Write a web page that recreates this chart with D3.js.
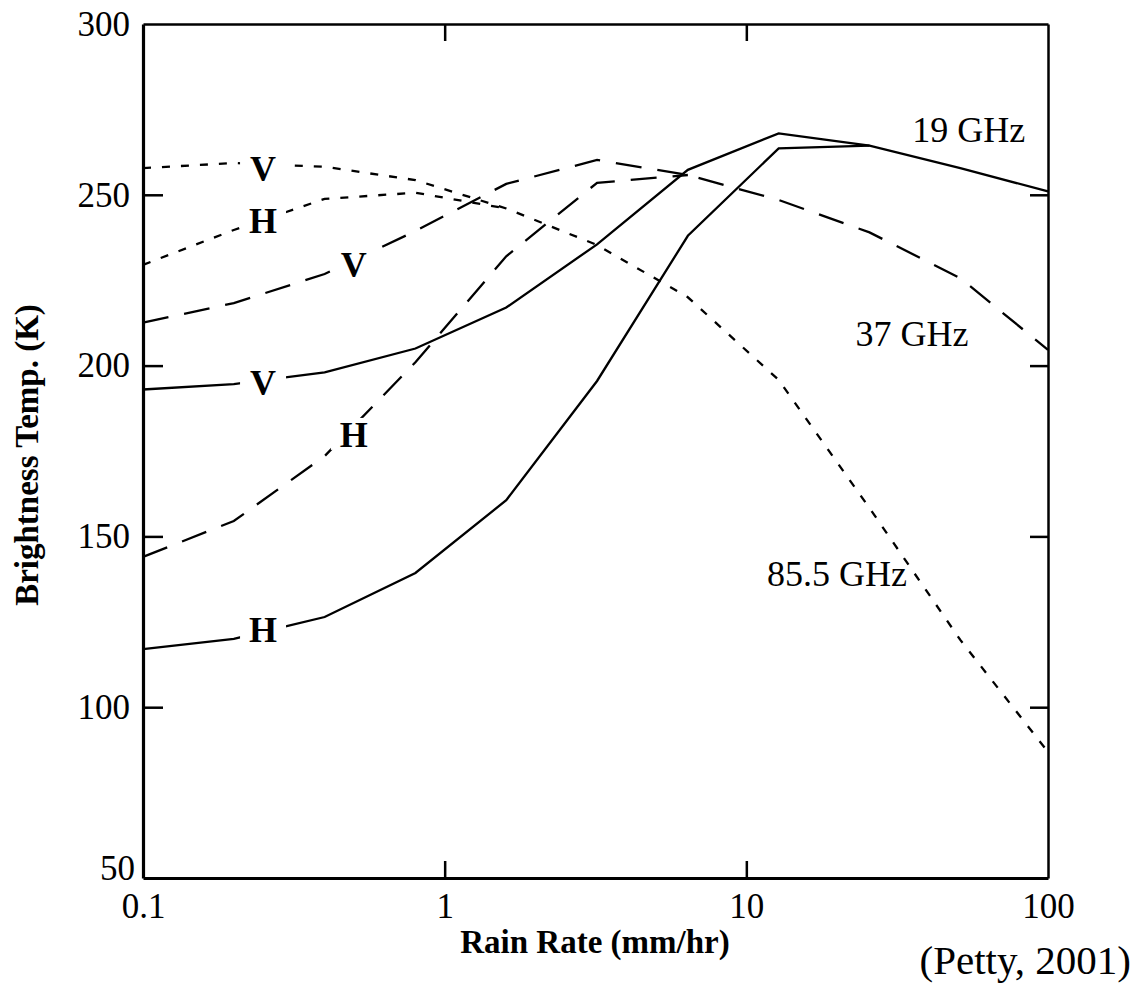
<!DOCTYPE html>
<html>
<head>
<meta charset="utf-8">
<script src="https://cdn.jsdelivr.net/npm/d3@7"></script>
<style>
  body { margin: 0; background: #fff; }
  svg { display: block; }
  text { font-family: "Liberation Serif", "Times New Roman", serif; fill: #000; }
</style>
</head>
<body>
<div class="canvas"></div>
<script>
// rain rates (mm/hr) where the model curves have vertices
const rates = [0.1, 0.2, 0.4, 0.8, 1.6, 3.2, 6.4, 12.8, 25.6, 51.2, 100];

// brightness temperatures (K)
// H curves stop where they join their V curve
const tb19V = [193, 194.6, 198, 205, 217, 235.5, 257.3, 268, 264.4, 257.8, 251];
const tb19H = [117, 120, 126.4, 139.3, 160.6, 195.5, 238, 263.6, 264.4];
const tb37V = [212.6, 218.3, 226.8, 239.4, 253.2, 260.2, 255.8, 248.5, 239, 225.6, 204.6];
const tb37H = [144, 154.5, 173.5, 201, 232, 253.5, 255.8];
const tb85V = [257.8, 259.3, 258.2, 254.3, 246, 235.3, 220, 195.8, 158.3, 119.7, 86.9];
const tb85H = [229.5, 239.7, 248.8, 250.6, 246];

const xTicks = [0.1, 1, 10, 100];
const yTicks = [50, 100, 150, 200, 250, 300];

// polarisation letters sitting on the curves
const polLabels = [
  { text: "V", rate: 0.25, tb: 257.7 },
  { text: "H", rate: 0.25, tb: 242.6 },
  { text: "V", rate: 0.5, tb: 229.6 },
  { text: "H", rate: 0.5, tb: 180 },
  { text: "V", rate: 0.25, tb: 195 },
  { text: "H", rate: 0.25, tb: 122.8 }
];

const freqLabels = [
  { text: "19 GHz", rate: 35.5, tb: 265.6 },
  { text: "37 GHz", rate: 23, tb: 205.6 },
  { text: "85.5 GHz", rate: 11.7, tb: 135.4 }
];

const dims = { w: 1137, h: 988 };
const plot = { left: 143, right: 1048, top: 24, bottom: 878 };

const svg = d3
  .select(".canvas")
  .append("svg")
  .attr("width", dims.w)
  .attr("height", dims.h);

const x = d3.scaleLog().domain([0.1, 100]).range([plot.left, plot.right]);
const y = d3.scaleLinear().domain([50, 300]).range([plot.bottom, plot.top]);

const series = [
  { values: tb19V, dash: null },
  { values: tb19H, dash: null },
  { values: tb37V, dash: "26,16" },
  { values: tb37H, dash: "26,16" },
  { values: tb85V, dash: "8,11" },
  { values: tb85H, dash: "8,11" }
];

const line = d3
  .line()
  .x(d => x(d[0]))
  .y(d => y(d[1]));

svg
  .append("g")
  .selectAll("path")
  .data(series)
  .enter()
  .append("path")
  .attr("d", s => line(s.values.map((v, i) => [rates[i], v])))
  .attr("fill", "none")
  .attr("stroke", "#000")
  .attr("stroke-width", 2.3)
  .attr("stroke-dasharray", s => s.dash);

// axes, ticks point inward
const xAxis = svg
  .append("g")
  .attr("transform", `translate(0, ${plot.bottom})`)
  .call(
    d3.axisBottom(x)
      .tickValues(xTicks)
      .tickFormat(d => (d < 1 ? "0.1" : d3.format("d")(d)))
      .tickSizeInner(-17)
      .tickSizeOuter(0)
      .tickPadding(15)
  );

const yAxis = svg
  .append("g")
  .attr("transform", `translate(${plot.left}, 0)`)
  .call(
    d3.axisLeft(y)
      .tickValues(yTicks)
      .tickFormat(d3.format("d"))
      .tickSizeInner(-20)
      .tickSizeOuter(0)
      .tickPadding(13)
  );

const topAxis = svg
  .append("g")
  .attr("transform", `translate(0, ${plot.top})`)
  .call(d3.axisTop(x).tickValues([1, 10]).tickFormat("").tickSizeInner(-17).tickSizeOuter(0));

const rightAxis = svg
  .append("g")
  .attr("transform", `translate(${plot.right}, 0)`)
  .call(d3.axisRight(y).tickValues([100, 150, 200, 250]).tickFormat("").tickSizeInner(-18).tickSizeOuter(0));

[xAxis, yAxis, topAxis, rightAxis].forEach(g => {
  g.selectAll("line").attr("stroke", "#000").attr("stroke-width", 2.5);
  g.select(".domain").attr("stroke", "#000").attr("stroke-width", 2.5);
  g.selectAll("text")
    .style("font-family", '"Liberation Serif", "Times New Roman", serif')
    .style("font-size", "35px")
    .attr("fill", "#000");
});
yAxis.select(".domain").attr("stroke-width", 3.2);
xAxis.select(".domain").attr("stroke-width", 3);
// hide the ticks that sit on the frame corners
xAxis.selectAll(".tick line").filter(d => d === 0.1 || d === 100).remove();
yAxis.selectAll(".tick line").filter(d => d === 50 || d === 300).remove();
// "50" sits a bit low and to the right in the original
yAxis.selectAll(".tick text").filter(d => d === 50).attr("x", -8).attr("dy", "0.05em");

// polarisation labels break the curves
const pol = svg
  .append("g")
  .selectAll("g")
  .data(polLabels)
  .enter()
  .append("g")
  .attr("transform", d => `translate(${x(d.rate)}, ${y(d.tb)})`);

pol
  .append("rect")
  .attr("x", -23)
  .attr("y", -16)
  .attr("width", 46)
  .attr("height", 32)
  .attr("fill", "#fff");

pol
  .append("text")
  .attr("text-anchor", "middle")
  .attr("dy", "0.35em")
  .style("font-size", "36px")
  .style("font-weight", "bold")
  .text(d => d.text);

svg
  .append("g")
  .selectAll("text")
  .data(freqLabels)
  .enter()
  .append("text")
  .attr("x", d => x(d.rate))
  .attr("y", d => y(d.tb))
  .style("font-size", "36px")
  .text(d => d.text);

// axis titles
svg
  .append("text")
  .attr("transform", "translate(38, 455) rotate(-90)")
  .attr("text-anchor", "middle")
  .style("font-size", "33px")
  .style("font-weight", "bold")
  .text("Brightness Temp. (K)");

svg
  .append("text")
  .attr("x", 595)
  .attr("y", 953)
  .attr("text-anchor", "middle")
  .style("font-size", "33px")
  .style("font-weight", "bold")
  .text("Rain Rate (mm/hr)");

svg
  .append("text")
  .attr("x", 1131)
  .attr("y", 974)
  .attr("text-anchor", "end")
  .style("font-size", "41px")
  .text("(Petty, 2001)");
</script>
</body>
</html>
